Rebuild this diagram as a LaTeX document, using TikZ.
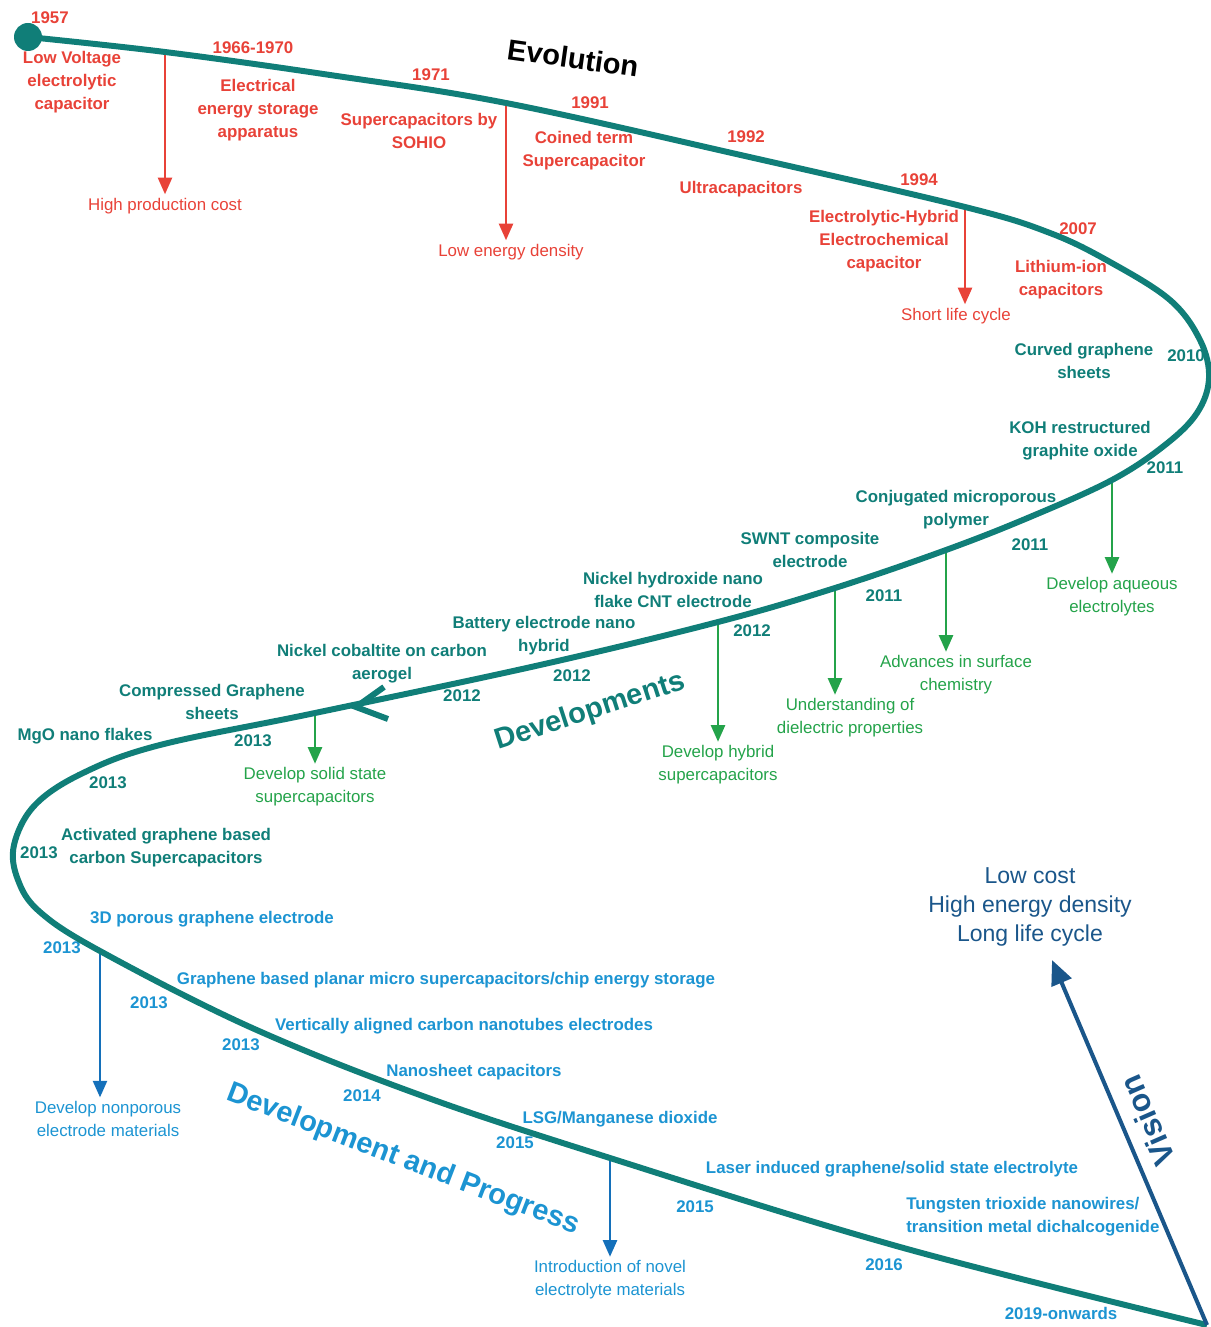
\documentclass[tikz,border=0pt]{standalone}
\usepackage{fontspec}
\setmainfont{Liberation Sans}
\usetikzlibrary{arrows.meta}

\definecolor{evored}{RGB}{232,66,56}
\definecolor{evoteal}{RGB}{16,126,120}
\definecolor{devgreen}{RGB}{36,163,74}
\definecolor{progblue}{RGB}{28,148,210}
\definecolor{progdark}{RGB}{20,112,186}
\definecolor{visblue}{RGB}{26,86,138}

\begin{document}
\begin{tikzpicture}[x=0.02cm, y=-0.02cm,
        every node/.style={inner sep=0pt, align=center},
        event/.style={font=\fontsize{9.6}{13.1}\selectfont\bfseries},
        effect/.style={font=\fontsize{9.6}{13.1}\selectfont},
        heading/.style={font=\fontsize{16.5}{18}\selectfont\bfseries},
        droparrow/.style={-{Triangle[width=8pt,length=9.5pt]}, line width=1.4pt, shorten >=2pt},
        spine/.style={evoteal, line width=3.4pt}]
    \useasboundingbox (0,0) rectangle (1210,1327);

    % points on the path
    \coordinate (s0) at (28,37);
    \coordinate (a1) at (165,52);
    \coordinate (a2) at (506,103);
    \coordinate (a3) at (965,207);
    \coordinate (g1) at (1112,480);
    \coordinate (g2) at (946,550);
    \coordinate (g3) at (835,588);
    \coordinate (g4) at (718,622);
    \coordinate (g5) at (315,713);
    \coordinate (b1) at (100,951);
    \coordinate (b2) at (610,1158);
    \coordinate (e0) at (1207,1325);
    \coordinate (vtip) at (1052,960);

    % Evolution
    \node[heading, rotate=-8] (evol) at (573,58) {Evolution};
    \node[event, evored] (y1957) at (50,18) {1957};
    \node[event, evored] (lowvolt) at (72,82) {Low Voltage\\electrolytic\\capacitor};
    \node[event, evored] (y1966) at (253,48) {1966-1970};
    \node[event, evored] (elec) at (258,110) {Electrical\\energy storage\\apparatus};
    \node[event, evored] (y1971) at (431,75) {1971};
    \node[event, evored] (sohio) at (419,131) {Supercapacitors by\\SOHIO};
    \node[event, evored] (y1991) at (590,103) {1991};
    \node[event, evored] (coined) at (584,151) {Coined term\\Supercapacitor};
    \node[event, evored] (y1992) at (746,137) {1992};
    \node[event, evored] (ultra) at (741,189) {Ultracapacitors};
    \node[event, evored] (y1994) at (919,180) {1994};
    \node[event, evored] (hybrid) at (884,241) {Electrolytic-Hybrid\\Electrochemical\\capacitor};
    \node[event, evored] (y2007) at (1078,229) {2007};
    \node[event, evored] (lithium) at (1061,280) {Lithium-ion\\capacitors};
    \node[effect, evored] (cost) at (165,206) {High production cost};
    \node[effect, evored] (energy) at (511,252) {Low energy density};
    \node[effect, evored] (life) at (956,316) {Short life cycle};
    \draw[droparrow, evored] (a1) -- (a1 |- cost.north);
    \draw[droparrow, evored] (a2) -- (a2 |- energy.north);
    \draw[droparrow, evored] (a3) -- (a3 |- life.north);

    % Developments
    \node[heading, evoteal, rotate=18] (devel) at (590,712) {Developments};
    \node[event, evoteal] (curved) at (1084,361) {Curved graphene\\sheets};
    \node[event, evoteal] (y2010) at (1186,356) {2010};
    \node[event, evoteal] (koh) at (1080,441) {KOH restructured\\graphite oxide};
    \node[event, evoteal] (y2011a) at (1165,468) {2011};
    \node[event, evoteal] (conj) at (956,510) {Conjugated microporous\\polymer};
    \node[event, evoteal] (y2011b) at (1030,545) {2011};
    \node[event, evoteal] (swnt) at (810,550) {SWNT composite\\electrode};
    \node[event, evoteal] (y2011c) at (884,596) {2011};
    \node[event, evoteal] (nihyd) at (673,590) {Nickel hydroxide nano\\flake CNT electrode};
    \node[event, evoteal] (y2012a) at (752,631) {2012};
    \node[event, evoteal] (battery) at (544,636) {Battery electrode nano\\hybrid};
    \node[event, evoteal] (y2012b) at (572,676) {2012};
    \node[event, evoteal] (nicob) at (382,664) {Nickel cobaltite on carbon\\aerogel};
    \node[event, evoteal] (y2012c) at (462,696) {2012};
    \node[event, evoteal] (compr) at (212,702) {Compressed Graphene\\sheets};
    \node[event, evoteal] (y2013a) at (253,741) {2013};
    \node[event, evoteal] (mgo) at (85,736) {MgO nano flakes};
    \node[event, evoteal] (y2013b) at (108,783) {2013};
    \node[event, evoteal] (activ) at (166,848) {Activated graphene based\\carbon Supercapacitors};
    \node[event, evoteal] (y2013c) at (39,853) {2013};
    \node[effect, devgreen] (aqueous) at (1112,597) {Develop aqueous\\electrolytes};
    \node[effect, devgreen] (surface) at (956,675) {Advances in surface\\chemistry};
    \node[effect, devgreen] (dielec) at (850,718) {Understanding of\\dielectric properties};
    \node[effect, devgreen] (hsuper) at (718,765) {Develop hybrid\\supercapacitors};
    \node[effect, devgreen] (solid) at (315,787) {Develop solid state\\supercapacitors};
    \draw[droparrow, devgreen] (g1) -- (g1 |- aqueous.north);
    \draw[droparrow, devgreen] (g2) -- (g2 |- surface.north);
    \draw[droparrow, devgreen] (g3) -- (g3 |- dielec.north);
    \draw[droparrow, devgreen] (g4) -- (g4 |- hsuper.north);
    \draw[droparrow, devgreen] (g5) -- (g5 |- solid.north);

    % Development and Progress
    \node[heading, progblue, rotate=-21] (progress) at (403,1160) {Development and Progress};
    \node[event, progblue] (porous) at (212,919) {3D porous graphene electrode};
    \node[event, progblue] (y2013d) at (62,948) {2013};
    \node[event, progblue] (planar) at (446,980) {Graphene based planar micro supercapacitors/chip energy storage};
    \node[event, progblue] (y2013e) at (149,1003) {2013};
    \node[event, progblue] (vert) at (464,1026) {Vertically aligned carbon nanotubes electrodes};
    \node[event, progblue] (y2013f) at (241,1045) {2013};
    \node[event, progblue] (nanosh) at (474,1072) {Nanosheet capacitors};
    \node[event, progblue] (y2014) at (362,1096) {2014};
    \node[event, progblue] (lsg) at (620,1119) {LSG/Manganese dioxide};
    \node[event, progblue] (y2015a) at (515,1143) {2015};
    \node[event, progblue] (laser) at (892,1169) {Laser induced graphene/solid state electrolyte};
    \node[event, progblue] (y2015b) at (695,1207) {2015};
    \node[event, progblue, align=left, anchor=west] (tungsten) at (906,1217) {Tungsten trioxide nanowires/\\transition metal dichalcogenide};
    \node[event, progblue] (y2016) at (884,1265) {2016};
    \node[event, progblue] (y2019) at (1061,1313) {2019-onwards};
    \node[effect, progblue] (nonpor) at (108,1119) {Develop nonporous\\electrode materials};
    \node[effect, progblue] (novel) at (610,1280) {Introduction of novel\\electrolyte materials};
    \draw[droparrow, progdark] (b1) -- (b1 |- nonpor.north);
    \draw[droparrow, progdark] (b2) -- (b2 |- novel.north);

    % the path itself
    \draw[spine] plot[smooth, tension=0.6] coordinates {(s0) (a1) (330,75) (a2) (745,156) (a3)
        (1050,233) (1110,262) (1170,300) (1200,340) (1209,378) (1197,413) (1165,445) (g1)
        (1030,517) (g2) (g3) (g4) (540,665) (g5) (160,745) (83,773) (35,805) (14,845) (18,880)
        (40,912) (b1) (250,1027) (420,1095) (b2) (900,1247) (e0)};
    \fill[evoteal] (s0) circle (14);
    \draw[spine, line join=miter] (384,687) -- (356,707) -- (388,719);

    % Vision
    \node[font=\fontsize{13.1}{16.5}\selectfont, visblue] (goals) at (1030,907) {Low cost\\High energy density\\Long life cycle};
    \draw[visblue, line width=2.3pt, -{Triangle[width=12pt,length=14pt]}] (e0) -- (vtip);
    \node[heading, visblue, font=\fontsize{18}{20}\selectfont\bfseries, rotate=113.6] (vision) at (1147,1121) {Vision};
\end{tikzpicture}
\end{document}
